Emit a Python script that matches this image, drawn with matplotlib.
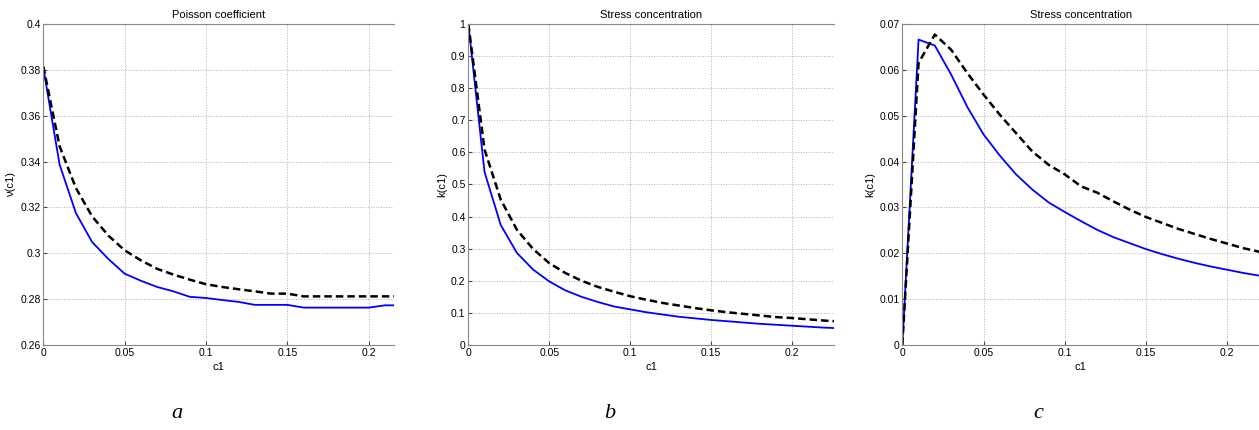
import matplotlib
matplotlib.use("Agg")
import matplotlib.pyplot as plt
import numpy as np
from matplotlib.ticker import FormatStrFormatter

plt.rcParams['font.family'] = ['Liberation Sans', 'DejaVu Sans']

# c1 values (step 0.01)
c1 = np.round(np.arange(0, 0.231, 0.01), 2)

# panel a: Poisson coefficient
nu_blue = [0.381, 0.3387, 0.3176, 0.3049, 0.2975, 0.2911, 0.288, 0.2853, 0.2834, 0.281,
           0.2805, 0.2796, 0.2788, 0.2775, 0.2775, 0.2775, 0.2763, 0.2763, 0.2763, 0.2763,
           0.2763, 0.2773, 0.2773, 0.2773]
nu_black = [0.3815, 0.3467, 0.3285, 0.3161, 0.3077, 0.3013, 0.2969, 0.2932, 0.2907, 0.2885,
            0.2865, 0.2853, 0.2843, 0.2834, 0.2824, 0.2824, 0.2812, 0.2812, 0.2812, 0.2812,
            0.2812, 0.2812, 0.2812, 0.2812]

# panel b: stress concentration
kb_blue = [1.0, 0.539, 0.374, 0.287, 0.235, 0.198, 0.170, 0.150, 0.134, 0.120,
           0.111, 0.102, 0.095, 0.088, 0.083, 0.078, 0.074, 0.070, 0.066, 0.063,
           0.060, 0.057, 0.054, 0.052]
kb_black = [1.0, 0.609, 0.453, 0.359, 0.299, 0.255, 0.224, 0.200, 0.181, 0.166,
            0.152, 0.141, 0.131, 0.123, 0.115, 0.108, 0.102, 0.097, 0.092, 0.087,
            0.084, 0.080, 0.076, 0.073]

# panel c: stress concentration
kc_blue = [0.0, 0.0666, 0.0653, 0.0590, 0.0519, 0.0459, 0.0413, 0.0372, 0.0339, 0.0311,
           0.0290, 0.0270, 0.0251, 0.0235, 0.0222, 0.0209, 0.0198, 0.0188, 0.0179, 0.0171,
           0.0164, 0.0157, 0.0151, 0.0146]
kc_black = [0.0, 0.0615, 0.0677, 0.0644, 0.0593, 0.0546, 0.0502, 0.0462, 0.0422, 0.0393,
            0.0372, 0.0346, 0.0332, 0.0313, 0.0295, 0.0279, 0.0266, 0.0253, 0.0242, 0.0231,
            0.0221, 0.0211, 0.0203, 0.0196]

panels = [
    ("Poisson coefficient", "\u03bd(c1)", nu_blue, nu_black, (0.26, 0.4), np.arange(0.26, 0.401, 0.02), 0.2156, "a"),
    ("Stress concentration", "k(c1)", kb_blue, kb_black, (0, 1), np.arange(0, 1.01, 0.1), 0.226, "b"),
    ("Stress concentration", "k(c1)", kc_blue, kc_black, (0, 0.07), np.arange(0, 0.0701, 0.01), 0.2195, "c"),
]
positions = [[0.0344, 0.1977, 0.2786, 0.7465],
             [0.372, 0.1977, 0.2905, 0.7465],
             [0.7167, 0.1977, 0.2833, 0.7465]]
letter_x = [177, 610, 1038]

fig = plt.figure(figsize=(12.59, 4.30), dpi=100)
for (title, ylab, yb, yk, ylim, yticks, xmax, letter), pos, lx in zip(panels, positions, letter_x):
    ax = fig.add_axes(pos)
    ax.plot(c1, yb, color='#0000ff', lw=1.3)
    ax.plot(c1, yk, color='black', lw=1.8, ls=(0, (3, 1.6)))
    ax.set_xlim(0, xmax)
    ax.set_ylim(*ylim)
    ax.set_xticks([0, 0.05, 0.1, 0.15, 0.2])
    ax.set_yticks(yticks)
    ax.xaxis.set_major_formatter(FormatStrFormatter('%g'))
    ax.set_yticklabels(['%g' % round(v, 3) for v in yticks])
    ax.grid(True, ls=':', color='#b0b0b0', lw=0.7)
    ax.tick_params(direction='in', length=3, labelsize=7.5, colors='#444444', labelcolor='black', pad=2)
    for s in ['left', 'bottom', 'top']:
        ax.spines[s].set_color('#888888')
    ax.spines['right'].set_visible(False)
    ax.set_title(title, fontsize=8, pad=4)
    ax.set_xlabel('c1', fontsize=8, labelpad=3)
    ax.set_ylabel(ylab, fontsize=8, labelpad=3)
    fig.text(lx / 1259, 1 - 413 / 430, letter, fontsize=16, style='italic',
             family='Liberation Serif', ha='center', va='center')

fig.savefig('out.png', dpi=100)
